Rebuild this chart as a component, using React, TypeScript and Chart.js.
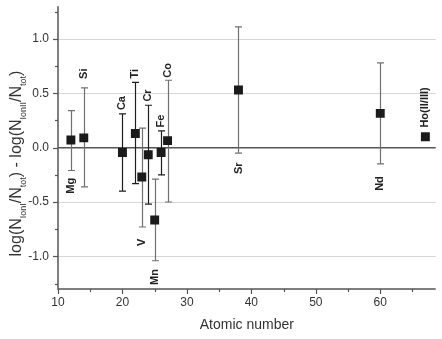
import React, { useEffect, useRef } from "react";
import { Chart, registerables } from "chart.js";

Chart.register(...registerables);

const elements = ["Mg", "Si", "Ca", "Ti", "V", "Cr", "Mn", "Fe", "Co", "Sr", "Nd", "Ho(II/III)"];
const atomicNumbers = [12, 14, 20, 22, 23, 24, 25, 26, 27, 38, 60, 67];
const values = [0.07, 0.09, -0.045, 0.13, -0.27, -0.065, -0.665, -0.045, 0.065, 0.53, 0.315, 0.1];
const upperEnds: (number | null)[] = [0.34, 0.55, 0.31, 0.6, 0.18, 0.39, -0.29, 0.155, 0.62, 1.11, 0.78, null];
const lowerEnds: (number | null)[] = [-0.21, -0.36, -0.4, -0.33, -0.73, -0.52, -1.04, -0.25, -0.5, -0.05, -0.15, null];
const labelAnchorY = [-0.35, 0.68, 0.41, 0.68, -0.87, 0.48, -1.19, 0.245, 0.71, -0.19, -0.33, 0.37];

const xMajorTicks = [10, 20, 30, 40, 50, 60];
const xMinorTicks = [15, 25, 35, 45, 55, 65];
const yMajorTicks = [-1.0, -0.5, 0.0, 0.5, 1.0];
const yMinorTicks = [-1.25, -0.75, -0.25, 0.25, 0.75, 1.25];
const yTickLabels = ["-1.0", "-0.5", "0.0", "0.5", "1.0"];
const xTickLabels = ["10", "20", "30", "40", "50", "60"];

const X_MIN = 10;
const X_MAX = 68.6;
const Y_MIN = -1.3;
const Y_MAX = 1.3;

const DARK_BAR = new Set(["Ca", "Ti", "Cr", "Fe"]);
const AXIS_COLOR = "#555555";
const FONT = "Arial, 'Liberation Sans', sans-serif";

const decorPlugin = {
  id: "decor",
  beforeDatasetsDraw(chart: any) {
    const ctx = chart.ctx;
    const xs = chart.scales.x;
    const ys = chart.scales.y;
    const { left, right, top, bottom } = chart.chartArea;
    ctx.save();
    yMajorTicks.forEach((v) => {
      if (v === 0) return;
      const py = Math.round(ys.getPixelForValue(v)) + 0.5;
      ctx.strokeStyle = "#d6d6d6";
      ctx.lineWidth = 1.2;
      ctx.beginPath();
      ctx.moveTo(left, py);
      ctx.lineTo(right, py);
      ctx.stroke();
    });
    {
      const py = ys.getPixelForValue(0);
      ctx.strokeStyle = AXIS_COLOR;
      ctx.lineWidth = 1.5;
      ctx.beginPath();
      ctx.moveTo(left, py);
      ctx.lineTo(right, py);
      ctx.stroke();
    }
    ctx.strokeStyle = AXIS_COLOR;
    ctx.lineWidth = 1.5;
    ctx.beginPath();
    ctx.moveTo(left, top);
    ctx.lineTo(left, bottom);
    ctx.lineTo(right, bottom);
    ctx.stroke();
    ctx.lineWidth = 1.2;
    const xt = (v: number, len: number) => {
      const px = Math.round(xs.getPixelForValue(v)) + 0.5;
      ctx.beginPath();
      ctx.moveTo(px, bottom);
      ctx.lineTo(px, bottom + len);
      ctx.stroke();
    };
    const yt = (v: number, len: number) => {
      const py = Math.round(ys.getPixelForValue(v)) + 0.5;
      ctx.beginPath();
      ctx.moveTo(left, py);
      ctx.lineTo(left - len, py);
      ctx.stroke();
    };
    xMajorTicks.forEach((v) => xt(v, 5));
    xMinorTicks.forEach((v) => xt(v, 3));
    yMajorTicks.forEach((v) => yt(v, 5));
    yMinorTicks.forEach((v) => yt(v, 3));
    ctx.fillStyle = "#333333";
    ctx.font = `12px ${FONT}`;
    ctx.textAlign = "center";
    ctx.textBaseline = "middle";
    xMajorTicks.forEach((v, i) => {
      ctx.fillText(xTickLabels[i], xs.getPixelForValue(v), bottom + 14);
    });
    ctx.textAlign = "right";
    yMajorTicks.forEach((v, i) => {
      ctx.fillText(yTickLabels[i], left - 9, ys.getPixelForValue(v));
    });
    ctx.lineWidth = 1.2;
    elements.forEach((el, i) => {
      const hi = upperEnds[i];
      const lo = lowerEnds[i];
      if (hi == null || lo == null) return;
      const px = Math.round(xs.getPixelForValue(atomicNumbers[i])) + 0.5;
      const pt = ys.getPixelForValue(hi);
      const pb = ys.getPixelForValue(lo);
      ctx.strokeStyle = DARK_BAR.has(el) ? "#1e1e1e" : "#707070";
      ctx.beginPath();
      ctx.moveTo(px, pt);
      ctx.lineTo(px, pb);
      ctx.moveTo(px - 3.5, pt);
      ctx.lineTo(px + 3.5, pt);
      ctx.moveTo(px - 3.5, pb);
      ctx.lineTo(px + 3.5, pb);
      ctx.stroke();
    });
    ctx.restore();
  },
  afterDraw(chart: any) {
    const ctx = chart.ctx;
    const xs = chart.scales.x;
    const ys = chart.scales.y;
    ctx.save();
    ctx.fillStyle = "#222222";
    ctx.font = `bold 11px ${FONT}`;
    ctx.textAlign = "center";
    ctx.textBaseline = "middle";
    elements.forEach((el, i) => {
      const px = xs.getPixelForValue(atomicNumbers[i]);
      const py = ys.getPixelForValue(labelAnchorY[i]);
      ctx.save();
      ctx.translate(px, py);
      ctx.rotate(-Math.PI / 2);
      ctx.fillText(el, 0, 0);
      ctx.restore();
    });
    ctx.fillStyle = "#333333";
    ctx.font = `14px ${FONT}`;
    ctx.textAlign = "center";
    ctx.textBaseline = "middle";
    ctx.fillText("Atomic number", (chart.chartArea.left + chart.chartArea.right) / 2, 325);
    const parts: [string, boolean][] = [
      ["log(N", false], ["IonI", true], ["/N", false], ["tot", true],
      [") - log(N", false], ["IonII", true], ["/N", false], ["tot", true], [")", false],
    ];
    const big = `16px ${FONT}`;
    const small = `9px ${FONT}`;
    let total = 0;
    parts.forEach(([t, s]) => {
      ctx.font = s ? small : big;
      total += ctx.measureText(t).width;
    });
    ctx.translate(21, 163.5);
    ctx.rotate(-Math.PI / 2);
    ctx.textAlign = "left";
    ctx.textBaseline = "alphabetic";
    let x = -total / 2;
    parts.forEach(([t, s]) => {
      ctx.font = s ? small : big;
      ctx.fillText(t, x, s ? 5 : 0);
      x += ctx.measureText(t).width;
    });
    ctx.restore();
  },
};

export default function App() {
  const ref = useRef<HTMLCanvasElement | null>(null);
  useEffect(() => {
    if (!ref.current) return;
    const chart = new Chart(ref.current, {
      type: "scatter",
      data: {
        datasets: [
          {
            data: atomicNumbers.map((x, i) => ({ x, y: values[i] })),
            pointStyle: "rect",
            pointRadius: 6.3,
            pointBorderWidth: 0,
            backgroundColor: "#1a1a1a",
            borderColor: "#1a1a1a",
          },
        ],
      },
      options: {
        responsive: false,
        animation: false,
        events: [],
        layout: { padding: { top: 5, right: 1, left: 0, bottom: 0 } },
        plugins: { legend: { display: false }, tooltip: { enabled: false } },
        scales: {
          x: {
            type: "linear",
            min: X_MIN,
            max: X_MAX,
            afterFit: (s: any) => { s.height = 50; s.paddingLeft = 0; s.paddingRight = 0; },
            ticks: { display: false },
            grid: { display: false, drawTicks: false },
            border: { display: false },
          },
          y: {
            type: "linear",
            min: Y_MIN,
            max: Y_MAX,
            afterFit: (s: any) => { s.width = 58; s.paddingTop = 0; s.paddingBottom = 0; },
            ticks: { display: false },
            grid: { display: false, drawTicks: false },
            border: { display: false },
          },
        },
      },
      plugins: [decorPlugin],
    } as any);
    return () => chart.destroy();
  }, []);
  return (
    <div style={{ position: "fixed", left: 0, top: 0, width: 442, height: 339, background: "#fff" }}>
      <canvas ref={ref} width={442} height={339} />
    </div>
  );
}
